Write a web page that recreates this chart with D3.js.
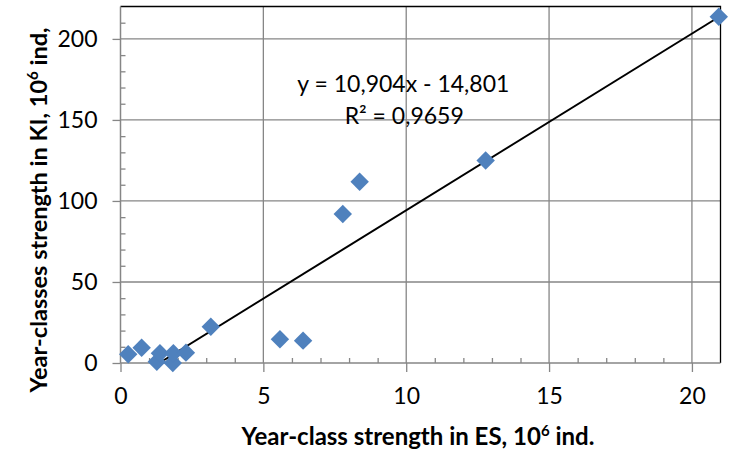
<!DOCTYPE html>
<html>
<head>
<meta charset="utf-8">
<script src="https://cdn.jsdelivr.net/npm/d3@7"></script>
<style>
  body { margin: 0; background: #fff; }
  svg { display: block; font-family: Lato, "Open Sans", sans-serif; }
</style>
</head>
<body>
<svg id="chart"></svg>
<script>
// DATA
const es = [0.27, 0.74, 1.27, 1.38, 1.83, 1.85, 2.29, 3.16, 5.58, 6.39, 7.78, 8.37, 12.78, 20.94]
const ki = [5.4, 9.4, 0.8, 6.0, 0.0, 6.0, 6.4, 22.4, 14.6, 13.8, 92.0, 111.8, 125.0, 213.7]
const xTicks = [0, 5, 10, 15, 20]
const yTicks = [0, 50, 100, 150, 200]
const trendSlope = 10.904
const trendIntercept = -14.801
const eqLabel = "y = 10,904x - 14,801"
const r2Label = "R² = 0,9659"

const points = es.map((d, i) => ({x: d, y: ki[i]}))

const width = 729
const height = 452
const margin = {top: 6.5, right: 8.5, bottom: 89, left: 120.5}
const w = width - margin.left - margin.right
const h = height - margin.top - margin.bottom

const svg = d3.select("#chart").attr("width", width).attr("height", height)
const g = svg.append("g").attr("transform", "translate(" + margin.left + "," + margin.top + ")")

const x = d3.scaleLinear().domain([0, 21]).range([0, w])
const y = d3.scaleLinear().domain([0, 220]).range([h, 0])

const grid = "#868686"

// gridlines
g.selectAll(".vgrid").data(xTicks.slice(1)).join("line")
  .attr("x1", d => x(d)).attr("x2", d => x(d))
  .attr("y1", 0).attr("y2", h)
  .attr("stroke", grid).attr("stroke-width", 1.3)
g.selectAll(".hgrid").data(yTicks.slice(1)).join("line")
  .attr("x1", 0).attr("x2", w)
  .attr("y1", d => y(d)).attr("y2", d => y(d))
  .attr("stroke", grid).attr("stroke-width", 1.3)

// border top / right
g.append("path")
  .attr("d", "M0,0H" + w + "V" + h)
  .attr("fill", "none").attr("stroke", "#000").attr("stroke-width", 1.3)

// minor ticks (inside)
const xMinor = d3.range(1, 21).filter(d => d % 5 !== 0)
g.append("g").attr("transform", "translate(0," + h + ")")
  .call(d3.axisBottom(x).tickValues(xMinor).tickSize(-5).tickFormat(""))
  .call(a => a.select(".domain").remove())
  .selectAll("line").attr("stroke", grid).attr("stroke-width", 1.3)
const yMinor = d3.range(10, 220, 10).filter(d => d % 50 !== 0)
g.append("g")
  .call(d3.axisLeft(y).tickValues(yMinor).tickSize(-5).tickFormat(""))
  .call(a => a.select(".domain").remove())
  .selectAll("line").attr("stroke", grid).attr("stroke-width", 1.3)

// main axes
const xAxis = g.append("g").attr("transform", "translate(0," + h + ")")
  .call(d3.axisBottom(x).tickValues(xTicks).tickSize(9).tickPadding(16).tickSizeOuter(0))
const yAxis = g.append("g")
  .call(d3.axisLeft(y).tickValues(yTicks).tickSize(8).tickPadding(15).tickSizeOuter(0))

;[xAxis, yAxis].forEach(a => {
  a.select(".domain").attr("stroke", grid).attr("stroke-width", 1.5)
  a.selectAll(".tick line").attr("stroke", grid).attr("stroke-width", 1.3)
  a.selectAll(".tick text").attr("fill", "#000").style("font-size", "23px")
    .style("font-family", "Lato, sans-serif")
})
xAxis.select(".domain").attr("d", "M0,0H" + w)
yAxis.select(".domain").attr("d", "M0," + h + "V0")

// trend line
svg.append("clipPath").attr("id", "clip")
  .append("rect").attr("width", w).attr("height", h)
const x0 = -trendIntercept / trendSlope
const x1 = d3.max(es)
g.append("line")
  .attr("clip-path", "url(#clip)")
  .attr("x1", x(x0)).attr("y1", y(trendSlope * x0 + trendIntercept))
  .attr("x2", x(x1)).attr("y2", y(trendSlope * x1 + trendIntercept))
  .attr("stroke", "#000").attr("stroke-width", 2)

// points
const diamond = d3.symbol(d3.symbolSquare, 170)
g.selectAll(".pt").data(points).join("path")
  .attr("d", diamond)
  .attr("transform", d => "translate(" + x(d.x) + "," + y(d.y) + ") rotate(45)")
  .attr("fill", "#4F81BD")

// equation
g.append("text")
  .attr("x", x(9.9)).attr("y", 85)
  .attr("text-anchor", "middle")
  .style("font-size", "23px")
  .text(eqLabel)
g.append("text")
  .attr("x", x(9.93)).attr("y", 117)
  .attr("text-anchor", "middle")
  .style("font-size", "23px")
  .text(r2Label)

// axis titles
const xt = svg.append("text")
  .attr("x", 418).attr("y", 445)
  .attr("text-anchor", "middle")
  .style("font-size", "24px").style("font-weight", "bold")
xt.append("tspan").text("Year-class strength in ES, 10")
xt.append("tspan").attr("dy", -9).style("font-size", "15px").text("6")
xt.append("tspan").attr("dy", 9).text(" ind.")

const yt = svg.append("text")
  .attr("transform", "translate(47,210) rotate(-90)")
  .attr("text-anchor", "middle")
  .style("font-size", "23.5px").style("font-weight", "bold")
yt.append("tspan").text("Year-classes strength in KI, 10")
yt.append("tspan").attr("dy", -9).style("font-size", "15px").text("6")
yt.append("tspan").attr("dy", 9).text(" ind,")
</script>
</body>
</html>
